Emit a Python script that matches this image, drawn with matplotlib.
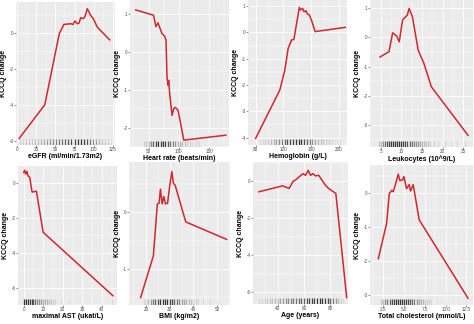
import numpy as np
import matplotlib
matplotlib.use("Agg")
import matplotlib.pyplot as plt
from matplotlib.ticker import AutoMinorLocator

plt.rcParams['font.family'] = ['Liberation Sans', 'DejaVu Sans']
plt.rcParams['axes.unicode_minus'] = False

RED = '#d3262d'
BG = '#ebebeb'

egfr_x = [2.6, 36, 55, 61, 70, 73, 75.5, 78.6, 81, 83, 86.5, 88.7, 91.7, 96, 99.6, 104.8, 121]
egfr_y = [-5.83, -3.98, -0.05, 0.46, 0.5, 0.46, 0.65, 0.5, 0.54, 0.83, 0.78, 0.9, 1.33, 0.96, 0.78, 0.31, -0.39]
egfr_rug = [3, 7, 11, 15, 19, 23, 27, 31, 35, 39, 43, 47, 51, 55, 59, 63, 67, 71, 75, 79, 83, 87, 91, 95, 99, 103, 107, 111, 115, 119, 123]
egfr_rug_w = [0.15, 0.15, 0.2, 0.2, 0.2, 0.25, 0.25, 0.3, 0.35, 0.4, 0.45, 0.5, 0.55, 0.6, 0.65, 0.7, 0.75, 0.8, 0.85, 0.9, 0.9, 0.85, 0.75, 0.6, 0.5, 0.4, 0.3, 0.25, 0.2, 0.15, 0.1]

hr_x = [28.9, 58.3, 62.2, 65.6, 72.2, 76.7, 78.9, 80.5, 82.2, 83.3, 85, 88.9, 91.7, 94.4, 98.9, 108.3, 177.8]
hr_y = [1.10, 0.96, 0.66, 0.76, 0.48, 0.41, 0.31, -0.66, -0.88, -0.75, -1.10, -1.67, -1.49, -1.46, -1.54, -2.32, -2.19]
hr_rug = [42, 46, 50, 54, 58, 62, 66, 70, 74, 78, 82, 86, 90, 94, 98, 102, 106, 110, 114, 118, 122, 126, 130, 134]
hr_rug_w = [0.15, 0.2, 0.3, 0.5, 0.7, 0.85, 0.9, 0.9, 0.9, 0.85, 0.75, 0.6, 0.5, 0.4, 0.3, 0.3, 0.25, 0.2, 0.15, 0.15, 0.1, 0.1, 0.1, 0.1]

hb_x = [80, 115, 122.2, 127, 131.9, 135.3, 139.2, 141.7, 143.1, 145, 148, 150, 152.8, 154.8, 157.7, 161, 166, 209.6]
hb_y = [-4.03, -2.19, -1.43, -0.61, -0.29, -0.27, 0.34, 0.72, 0.95, 0.85, 0.91, 0.78, 0.82, 0.7, 0.66, 0.44, 0.03, 0.19]
hb_rug = [86, 90, 94, 98, 102, 106, 110, 114, 118, 122, 126, 130, 134, 138, 142, 146, 150, 154, 158, 162, 166, 170, 174, 178, 182, 186, 190, 194, 198, 202]
hb_rug_w = [0.1, 0.1, 0.15, 0.2, 0.25, 0.3, 0.4, 0.5, 0.55, 0.65, 0.75, 0.8, 0.85, 0.9, 0.9, 0.9, 0.8, 0.7, 0.6, 0.45, 0.35, 0.25, 0.2, 0.2, 0.15, 0.15, 0.1, 0.05, 0.05, 0.1]

leu_x = [4.84, 7.0, 7.9, 8.87, 9.5, 10.3, 11.45, 11.9, 12.7, 14.1, 15.5, 17.3, 26.2]
leu_y = [-0.67, -0.49, 0.16, 0.05, -0.15, 0.6, 0.77, 1.0, 0.71, -0.44, -0.9, -1.7, -3.37]
leu_rug = [4.5, 5, 5.5, 6, 6.5, 7, 7.5, 8, 8.5, 9, 9.5, 10, 10.5, 11, 11.5, 12, 12.5, 13, 13.5, 14, 14.5, 15, 15.5, 16, 16.5, 17, 18, 19, 20.5, 22, 23.5, 25.5]
leu_rug_w = [0.2, 0.3, 0.45, 0.6, 0.75, 0.85, 0.9, 0.9, 0.9, 0.9, 0.9, 0.9, 0.85, 0.8, 0.75, 0.7, 0.6, 0.5, 0.45, 0.4, 0.35, 0.3, 0.25, 0.2, 0.2, 0.15, 0.15, 0.1, 0.1, 0.08, 0.08, 0.1]

ast_x = [0, 0.5, 1.0, 1.7, 2.2, 3.1, 4.3, 6.5, 9.95, 45.6]
ast_y = [0.58, 0.71, 0.49, 0.64, 0.39, 0.30, -0.54, -0.49, -2.84, -6.47]
ast_rug = [0, 1, 2, 3, 4, 5, 6, 7, 8, 9, 10, 11, 12, 13, 14, 15, 16, 19, 23, 45]
ast_rug_w = [0.95, 0.95, 0.9, 0.85, 0.8, 0.7, 0.6, 0.5, 0.45, 0.4, 0.35, 0.3, 0.25, 0.2, 0.2, 0.15, 0.1, 0.08, 0.08, 0.1]

bmi_x = [17.7, 23.1, 24.8, 25.5, 26.1, 26.8, 27.5, 28.2, 29.1, 29.96, 30.9, 31.6, 32.3, 36.8, 54.1]
bmi_y = [-1.51, -0.77, 0.15, 0.16, 0.41, 0.15, 0.28, 0.15, 0.16, 0.45, 0.72, 0.51, 0.48, -0.17, -0.48]
bmi_rug = [19, 20, 21, 22, 23, 24, 25, 26, 27, 28, 29, 30, 31, 32, 33, 34, 35, 36, 37, 38, 39, 40, 41, 42, 44, 47, 50]
bmi_rug_w = [0.1, 0.15, 0.25, 0.4, 0.55, 0.7, 0.8, 0.9, 0.9, 0.9, 0.9, 0.85, 0.8, 0.7, 0.6, 0.5, 0.4, 0.35, 0.3, 0.25, 0.2, 0.15, 0.15, 0.1, 0.1, 0.08, 0.05]

age_x = [25.75, 43.75, 48.75, 51.75, 53.25, 56.25, 59.25, 61.25, 63.25, 65, 66.75, 68.75, 71.25, 73.75, 76.25, 78.75, 84.25, 92.5]
age_y = [-0.57, -0.25, -0.39, 0, 0.05, 0.23, 0.41, 0.32, 0.59, 0.32, 0.41, 0.29, 0.32, 0.05, -0.21, -0.39, -0.66, -6.29]
age_rug = [26, 28, 30, 32, 34, 36, 38, 40, 42, 44, 46, 48, 50, 52, 54, 56, 58, 60, 62, 64, 66, 68, 70, 72, 74, 76, 78, 80, 82, 84, 86, 88, 90]
age_rug_w = [0.1, 0.1, 0.15, 0.15, 0.2, 0.2, 0.25, 0.3, 0.35, 0.4, 0.45, 0.5, 0.55, 0.6, 0.6, 0.65, 0.7, 0.7, 0.75, 0.8, 0.85, 0.85, 0.9, 0.9, 0.9, 0.85, 0.8, 0.7, 0.55, 0.4, 0.25, 0.15, 0.1]

chol_x = [1.9, 2.9, 3.22, 3.5, 3.7, 3.98, 4.3, 4.5, 4.82, 4.98, 5.3, 5.62, 5.78, 6.1, 6.82, 12.7]
chol_y = [-1.93, -0.89, -0.01, 0.09, 0.05, 0.28, 0.57, 0.38, 0.40, 0.5, 0.14, 0.26, 0.07, 0.26, -0.78, -3.1]
chol_rug = [2.25, 2.5, 2.75, 3, 3.25, 3.5, 3.75, 4, 4.25, 4.5, 4.75, 5, 5.25, 5.5, 5.75, 6, 6.25, 6.5, 6.75, 7, 7.25, 7.5, 7.75, 8, 8.25, 9, 10, 12.5]
chol_rug_w = [0.2, 0.3, 0.45, 0.6, 0.7, 0.8, 0.85, 0.9, 0.9, 0.9, 0.9, 0.85, 0.85, 0.8, 0.75, 0.65, 0.55, 0.45, 0.35, 0.3, 0.25, 0.2, 0.15, 0.12, 0.1, 0.05, 0.05, 0.08]

W, H = 474, 324


def add_panel(fig, box, x, y, rug, rug_w, xlim, ylim, xticks, yticks, xlabel, xfmt='{:g}'):
    x0, y0, x1, y1 = box
    ax = fig.add_axes([x0 / W, 1 - y1 / H, (x1 - x0) / W, (y1 - y0) / H])
    ax.set_facecolor(BG)
    for s in ax.spines.values():
        s.set_visible(False)
    ax.set_xlim(*xlim)
    ax.set_ylim(*ylim)
    ax.set_xticks(xticks)
    ax.set_xticklabels([xfmt.format(t) for t in xticks])
    ax.set_yticks(yticks)
    ax.set_yticklabels(['{:g}'.format(t) for t in yticks])
    ax.xaxis.set_minor_locator(AutoMinorLocator(2))
    ax.yaxis.set_minor_locator(AutoMinorLocator(2))
    ax.grid(True, which='major', color='white', lw=0.6)
    ax.grid(True, which='minor', color='white', lw=0.3)
    ax.set_axisbelow(True)
    ax.tick_params(which='major', length=1.2, width=0.4, color='#444444',
                   labelsize=3.3, labelcolor='#4d4d4d', pad=0.5)
    ax.tick_params(which='minor', length=0)
    colors = [(0, 0, 0, w * 0.85) for w in rug_w]
    ax.vlines(rug, 0, 0.04, transform=ax.get_xaxis_transform(), colors=colors, lw=0.9)
    ax.plot(x, y, color=RED, lw=1.1, solid_joinstyle='round')
    ax.set_xlabel(xlabel, fontsize=5, fontweight='bold', labelpad=0.8)
    ax.set_ylabel('KCCQ change', fontsize=5, fontweight='bold', labelpad=1.5)
    return ax


fig = plt.figure(figsize=(W / 100, H / 100), dpi=100)

add_panel(fig, (16, 2, 115, 145), egfr_x, egfr_y, egfr_rug, egfr_rug_w,
          (-1.7, 128), (-6.2, 1.7), [0, 25, 50, 75, 100, 125], [0, -2, -4, -6],
          'eGFR (ml/min/1.73m2)')
add_panel(fig, (130, 0, 229, 147), hr_x, hr_y, hr_rug, hr_rug_w,
          (19.4, 183), (-2.5, 1.36), [50, 100, 150], [1, 0, -1, -2],
          'Heart rate (beats/min)')
add_panel(fig, (248, 0, 347, 145), hb_x, hb_y, hb_rug, hb_rug_w,
          (69, 212), (-4.28, 1.23), [80, 120, 160, 200], [1, 0, -1, -2, -3, -4],
          'Hemoglobin (g/L)')
add_panel(fig, (370, 0, 473, 147), leu_x, leu_y, leu_rug, leu_rug_w,
          (2.4, 27.4), (-3.77, 1.29), [5, 10, 15, 20, 25], [1, 0, -1, -2, -3],
          'Leukocytes (10^9/L)')
add_panel(fig, (18, 166, 117, 305), ast_x, ast_y, ast_rug, ast_rug_w,
          (-2.9, 47.7), (-7.0, 0.95), [0, 10, 20, 30, 40], [0, -2, -4, -6],
          'maximal AST (ukat/L)')
add_panel(fig, (129, 162, 230, 305), bmi_x, bmi_y, bmi_rug, bmi_rug_w,
          (12.8, 55.5), (-1.64, 0.89), [20, 30, 40, 50], [0, -1],
          'BMI (kg/m2)')
add_panel(fig, (253, 162, 348, 304), age_x, age_y, age_rug, age_rug_w,
          (21.25, 93.5), (-6.64, 1.04), [40, 60, 80], [0, -2, -4, -6],
          'Age (years)')
add_panel(fig, (370, 165, 473, 305), chol_x, chol_y, chol_rug, chol_rug_w,
          (0.9, 13.3), (-3.3, 0.84), [2.5, 5.0, 7.5, 10.0, 12.5], [0, -1, -2, -3],
          'Total cholesterol (mmol/L)', xfmt='{:.1f}')

fig.savefig('out.png', dpi=100)
